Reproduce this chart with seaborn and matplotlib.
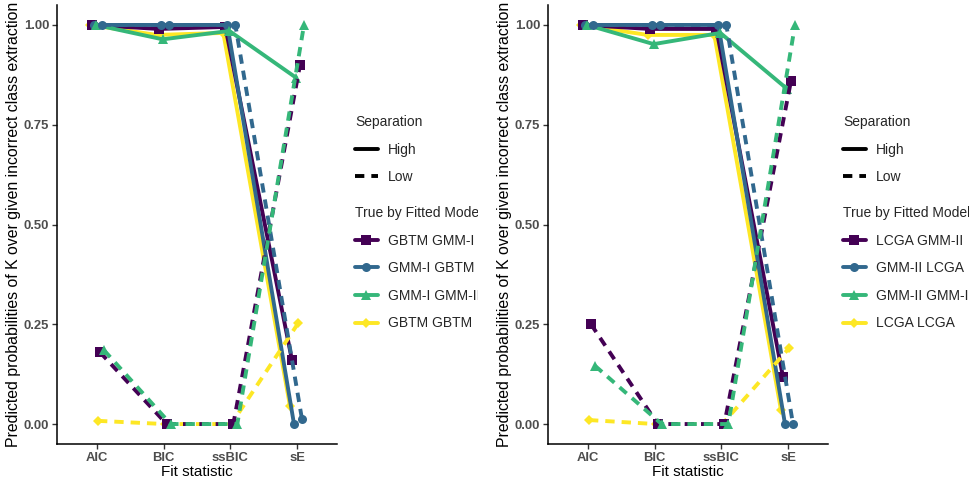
import numpy as np
import pandas as pd
import matplotlib
matplotlib.use("Agg")
import matplotlib.pyplot as plt
import seaborn as sns
from matplotlib.lines import Line2D
from matplotlib.transforms import Bbox, TransformedBbox

# ---------------- data ----------------
stats = ["AIC", "BIC", "ssBIC", "sE"]
separation = ["High", "Low"]

# Panel 1 (GBTM / GMM-I)
models_1 = ["GBTM GMM-I", "GMM-I GBTM", "GMM-I GMM-II", "GBTM GBTM"]
p1_gbtm_gmm1_high = [1.00, 0.99, 0.995, 0.16]
p1_gbtm_gmm1_low = [0.18, 0.00, 0.00, 0.90]
p1_gmm1_gbtm_high = [1.00, 1.00, 1.00, 0.00]
p1_gmm1_gbtm_low = [1.00, 1.00, 1.00, 0.012]
p1_gmm1_gmm2_high = [1.00, 0.964, 0.985, 0.868]
p1_gmm1_gmm2_low = [0.185, 0.00, 0.00, 1.00]
p1_gbtm_gbtm_high = [1.00, 0.975, 0.98, 0.045]
p1_gbtm_gbtm_low = [0.008, 0.00, 0.00, 0.252]

# Panel 2 (LCGA / GMM-II)
models_2 = ["LCGA GMM-II", "GMM-II LCGA", "GMM-II GMM-II", "LCGA LCGA"]
p2_lcga_gmm2_high = [1.00, 0.99, 0.99, 0.118]
p2_lcga_gmm2_low = [0.25, 0.00, 0.00, 0.86]
p2_gmm2_lcga_high = [1.00, 1.00, 1.00, 0.00]
p2_gmm2_lcga_low = [1.00, 1.00, 1.00, 0.00]
p2_gmm2_gmm2_high = [1.00, 0.952, 0.98, 0.84]
p2_gmm2_gmm2_low = [0.146, 0.00, 0.00, 1.00]
p2_lcga_lcga_high = [1.00, 0.975, 0.975, 0.035]
p2_lcga_lcga_low = [0.01, 0.00, 0.00, 0.19]

panel1_series = {
    (models_1[0], "High"): p1_gbtm_gmm1_high, (models_1[0], "Low"): p1_gbtm_gmm1_low,
    (models_1[1], "High"): p1_gmm1_gbtm_high, (models_1[1], "Low"): p1_gmm1_gbtm_low,
    (models_1[2], "High"): p1_gmm1_gmm2_high, (models_1[2], "Low"): p1_gmm1_gmm2_low,
    (models_1[3], "High"): p1_gbtm_gbtm_high, (models_1[3], "Low"): p1_gbtm_gbtm_low,
}
panel2_series = {
    (models_2[0], "High"): p2_lcga_gmm2_high, (models_2[0], "Low"): p2_lcga_gmm2_low,
    (models_2[1], "High"): p2_gmm2_lcga_high, (models_2[1], "Low"): p2_gmm2_lcga_low,
    (models_2[2], "High"): p2_gmm2_gmm2_high, (models_2[2], "Low"): p2_gmm2_gmm2_low,
    (models_2[3], "High"): p2_lcga_lcga_high, (models_2[3], "Low"): p2_lcga_lcga_low,
}

# ---------------- style ----------------
colors = ["#440154", "#31688E", "#35B779", "#FDE725"]
marker_shapes = ["s", "o", "^", "D"]
marker_sizes = [6.5, 6.5, 7.5, 5.0]
dodge_model_order = [3, 0, 1, 2]  # order of groups within each x position
LW = 2.8
dash_style = (0, (2.4, 1.8))

sns.set_style("ticks")
plt.rcParams["font.family"] = ["Liberation Sans", "DejaVu Sans"]

W, H = 970, 482
fig = plt.figure(figsize=(W / 100, H / 100), dpi=100)


def draw_panel(ax, models, series):
    rows = []
    hue_order, pal, mk, ls = [], {}, [], []
    for sep in separation:
        for mi in dodge_model_order:
            m = models[mi]
            level = f"{m} | {sep}"
            hue_order.append(level)
            pal[level] = colors[mi]
            mk.append(marker_shapes[mi])
            ls.append("-" if sep == "High" else dash_style)
            for s, v in zip(stats, series[(m, sep)]):
                rows.append({"stat": s, "prob": v, "group": level})
    df = pd.DataFrame(rows)
    sns.pointplot(data=df, x="stat", y="prob", hue="group", order=stats,
                  hue_order=hue_order, palette=pal, markers=mk, linestyles=ls,
                  dodge=0.21, errorbar=None, legend=False, ax=ax,
                  linewidth=LW, markersize=6, markeredgewidth=0)
    for line in ax.get_lines():
        mkr = line.get_marker()
        if mkr in marker_shapes:
            line.set_markersize(marker_sizes[marker_shapes.index(mkr)])
    ax.set_xlim(-0.6, 3.6)
    ax.set_ylim(-0.05, 1.05)
    ax.set_yticks([0, 0.25, 0.5, 0.75, 1.0])
    ax.set_yticklabels(["0.00", "0.25", "0.50", "0.75", "1.00"])
    ax.set_xlabel("Fit statistic", fontsize=11, color="black", labelpad=1)
    ax.set_ylabel("Predicted probabilities of K over given incorrect class extraction",
                  fontsize=11.4, color="black", labelpad=2)
    for lab in ax.get_xticklabels() + ax.get_yticklabels():
        lab.set_fontweight("bold")
        lab.set_color("#4D4D4D")
        lab.set_fontsize(9.4)
    ax.tick_params(axis="both", length=3.5, width=1, color="#333333", pad=2)
    sns.despine(ax=ax)
    for sp in ["left", "bottom"]:
        ax.spines[sp].set_linewidth(1.1)
        ax.spines[sp].set_color("black")
    ax.grid(False)


def draw_legends(x_px, models, clip_right_px=None):
    sep_handles = [Line2D([], [], color="black", lw=LW, linestyle="-"),
                   Line2D([], [], color="black", lw=LW, linestyle=dash_style)]
    col_handles = [Line2D([], [], color=colors[i], lw=LW, marker=marker_shapes[i],
                          markersize=marker_sizes[i], markeredgewidth=0)
                   for i in range(4)]
    common = dict(loc="upper left", frameon=False, fontsize=10, title_fontsize=10,
                  handlelength=1.65, handletextpad=0.75, labelspacing=0.98,
                  borderpad=0, borderaxespad=0, alignment="left")
    leg1 = fig.legend(sep_handles, separation, title="Separation",
                      bbox_to_anchor=(x_px / W, 1 - 115 / H), **common)
    leg2 = fig.legend(col_handles, models, title="True by Fitted Model",
                      bbox_to_anchor=(x_px / W, 1 - 206 / H), **common)
    if clip_right_px is not None:
        box = TransformedBbox(Bbox([[0, 0], [clip_right_px / W, 1]]), fig.transFigure)
        for leg in (leg1, leg2):
            for t in leg.get_texts() + [leg.get_title()]:
                t.set_clip_box(box)
                t.set_clip_on(True)


ax1 = fig.add_axes([57 / W, 38 / H, 280 / W, 439 / H])
ax2 = fig.add_axes([548 / W, 38 / H, 280 / W, 439 / H])
draw_panel(ax1, models_1, panel1_series)
draw_panel(ax2, models_2, panel2_series)
draw_legends(355, models_1, clip_right_px=478)
draw_legends(843, models_2)

fig.savefig("out.png", dpi=100)
